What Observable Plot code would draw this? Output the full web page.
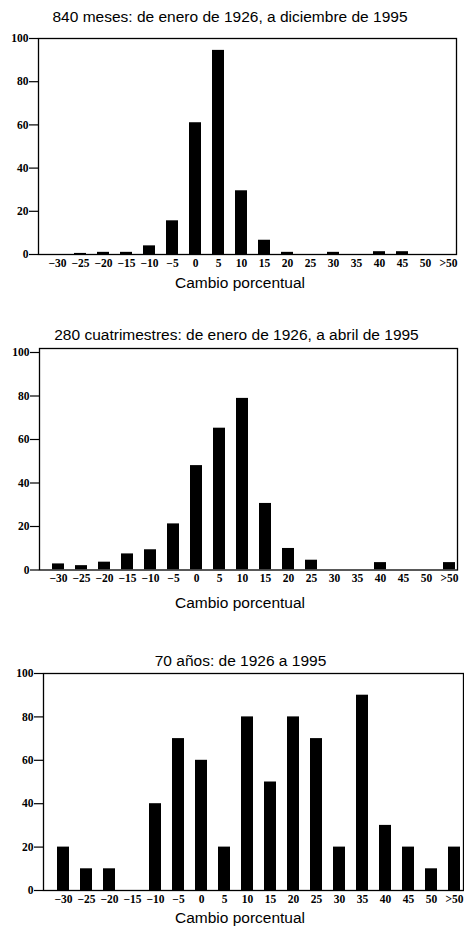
<!DOCTYPE html>
<html>
<head>
<meta charset="utf-8">
<script src="https://cdn.jsdelivr.net/npm/d3@7"></script>
<script src="https://cdn.jsdelivr.net/npm/@observablehq/plot@0.6"></script>
<style>
  body { margin: 0; background: #fff; }
  #root { position: relative; width: 464px; height: 928px; background: #fff; overflow: hidden; }
  .t { position: absolute; font-family: "Liberation Sans", Arial, sans-serif; font-size: 15.5px; line-height: 1; color: #000; white-space: nowrap; transform: translateX(-50%); }
  .p { position: absolute; left: 0; }
  .p text { font-family: "Liberation Serif", "Times New Roman", serif !important; }
</style>
</head>
<body>
<div id="root"></div>
<script>
// Categories (tick labels) shared by all three panels
const categories = ["−30","−25","−20","−15","−10","−5","0","5","10","15","20","25","30","35","40","45","50",">50"];
const yTicks = [0, 20, 40, 60, 80, 100];

// Panel titles / axis label
const titles = [
  "840 meses: de enero de 1926, a diciembre de 1995",
  "280 cuatrimestres: de enero de 1926, a abril de 1995",
  "70 años: de 1926 a 1995"
];
const xLabel = "Cambio porcentual";

// Series values
const meses = [0, 0.5, 1, 1, 4, 15.6, 61, 94.5, 29.5, 6.6, 1, 0, 1, 0, 1.3, 1.3, 0, 0];
const cuatrimestres = [2.8, 2, 3.6, 7.4, 9.3, 21.2, 48, 65.2, 78.9, 30.6, 9.9, 4.5, 0, 0, 3.4, 0, 0, 3.4];
const anos = [20, 10, 10, 0, 40, 70, 60, 20, 80, 50, 80, 70, 20, 90, 30, 20, 10, 20];

const root = document.getElementById("root");
const SERIF = "'Liberation Serif', 'Times New Roman', serif";

function addText(txt, cx, top) {
  const d = document.createElement("div");
  d.className = "t";
  d.textContent = txt;
  d.style.left = cx + "px";
  d.style.top = top + "px";
  root.appendChild(d);
}

function panel(values, cfg) {
  const data = categories.map((c, i) => ({cat: c, v: values[i]}));
  const chart = Plot.plot({
    width: 464,
    height: cfg.height,
    marginLeft: cfg.ml,
    marginRight: cfg.mr,
    marginTop: cfg.mt,
    marginBottom: cfg.mb,
    style: {fontFamily: SERIF, fontSize: "11.5px", color: "#000", background: "transparent"},
    x: {type: "band", domain: categories, range: cfg.xr, paddingInner: 0.5, paddingOuter: 0.25, label: null},
    y: {domain: [0, 100], range: cfg.yr, label: null},
    marks: [
      Plot.barY(data, {x: "cat", y: "v", fill: "#000", clip: "frame"}),
      Plot.frame({stroke: "#000", strokeWidth: 1.3}),
      Plot.axisY({ticks: yTicks, tickSize: 9, tickPadding: 1, strokeWidth: 1.2, label: null, fill: "#000",
                  fontFamily: SERIF, fontSize: 11.5, fontWeight: "bold"}),
      Plot.axisX({tickSize: 0, tickPadding: 4, label: null, fill: "#000",
                  fontFamily: SERIF, fontSize: 11.5, fontWeight: "bold"})
    ]
  });
  chart.classList.add("p");
  chart.style.top = cfg.top + "px";
  root.appendChild(chart);
}

// Panel 1
addText(titles[0], 230, 8.5);
panel(meses, {top: 30, height: 250, ml: 38, mr: 8, mt: 8, mb: 26, xr: [40.7, 464.6], yr: [224, 8]});
addText(xLabel, 240, 275);

// Panel 2
addText(titles[1], 236.5, 326.5);
panel(cuatrimestres, {top: 340, height: 250, ml: 39, mr: 7, mt: 8, mb: 20.5, xr: [42.05, 465], yr: [229.5, 12]});
addText(xLabel, 240, 594.5);

// Panel 3
addText(titles[2], 240.5, 653);
panel(anos, {top: 665, height: 250, ml: 43, mr: 1, mt: 8, mb: 25, xr: [46.75, 469.75], yr: [225, 8]});
addText(xLabel, 240, 909.5);
</script>
</body>
</html>
